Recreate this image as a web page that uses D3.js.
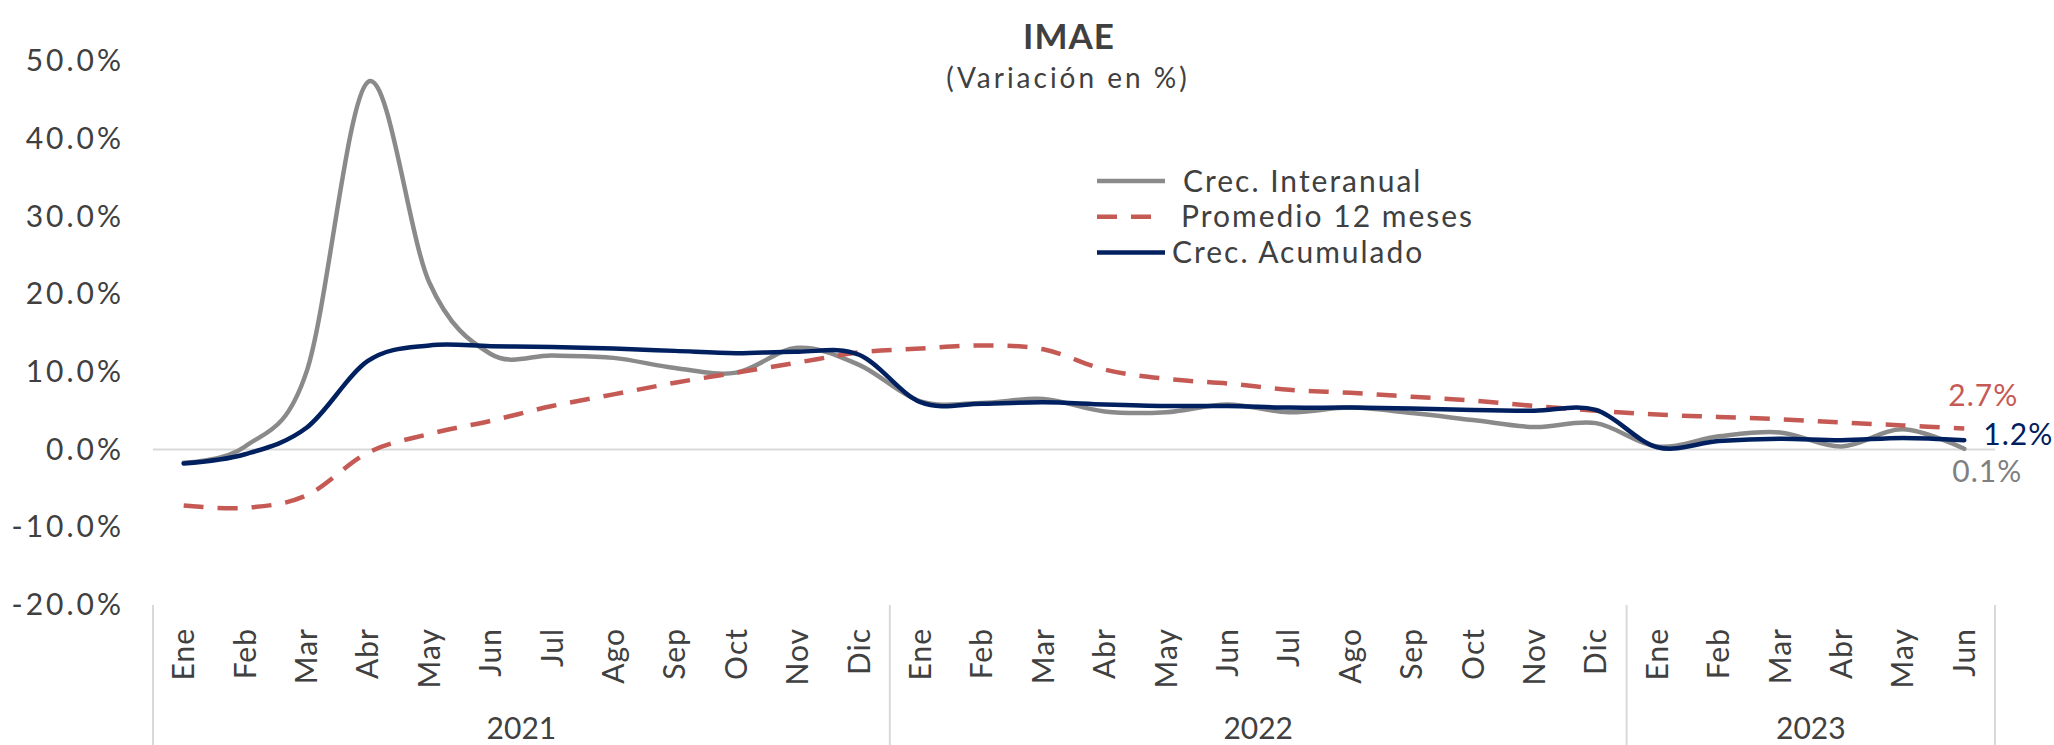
<!DOCTYPE html>
<html>
<meta charset="utf-8">
<title>IMAE</title>
<style>
  body { margin: 0; background: #fff; }
  svg text { font-family: Lato, "Open Sans", sans-serif; fill: #404040; }
  .line { fill: none; stroke-width: 4.5; stroke-linejoin: round; stroke-linecap: round; }
</style>
<body>
<div id="chart"></div>
<script src="https://cdn.jsdelivr.net/npm/d3@7"></script>
<script>
// datos (variacion en %)
var months = ["Ene","Feb","Mar","Abr","May","Jun","Jul","Ago","Sep","Oct","Nov","Dic",
              "Ene","Feb","Mar","Abr","May","Jun","Jul","Ago","Sep","Oct","Nov","Dic",
              "Ene","Feb","Mar","Abr","May","Jun"];
var years = ["2021", "2022", "2023"];
var monthsPerYear = [12, 12, 6];

var interanual = [-1.7, 0.4, 10.0, 47.3, 21.5, 12.3, 12.1, 11.8, 10.5, 9.9, 13.1, 10.9,
                  6.2, 6.0, 6.5, 4.9, 4.8, 5.8, 4.8, 5.4, 4.7, 3.8, 2.9, 3.4,
                  0.4, 1.7, 2.2, 0.4, 2.6, 0.1];
var promedio = [-7.2, -7.5, -5.9, -0.4, 2.0, 3.7, 5.6, 7.1, 8.6, 9.9, 11.2, 12.5,
                13.0, 13.4, 12.9, 10.3, 9.1, 8.5, 7.7, 7.3, 6.8, 6.3, 5.6, 5.0,
                4.5, 4.2, 3.9, 3.5, 3.1, 2.7];
var acumulado = [-1.8, -0.6, 2.8, 11.4, 13.4, 13.3, 13.2, 13.0, 12.7, 12.4, 12.6, 12.2,
                 6.1, 5.9, 6.1, 5.8, 5.6, 5.6, 5.4, 5.4, 5.3, 5.1, 5.0, 5.1,
                 0.3, 1.1, 1.4, 1.2, 1.5, 1.2];
var yTicks = [-20, -10, 0, 10, 20, 30, 40, 50];

var width = 2054, height = 745;

var svg = d3.select("#chart").append("svg")
    .attr("width", width)
    .attr("height", height);

var x = d3.scaleBand()
    .domain(d3.range(months.length))
    .range([153, 1995]);
var xc = function(i) { return x(i) + x.bandwidth() / 2; };

var y = d3.scaleLinear()
    .domain([-20, 50])
    .range([605, 61]);

// titulo
svg.append("text")
    .attr("x", 1069).attr("y", 49)
    .attr("text-anchor", "middle")
    .style("font-size", "35px").style("font-weight", "bold")
    .style("letter-spacing", "1px")
    .text("IMAE");
svg.append("text")
    .attr("x", 1068).attr("y", 88)
    .attr("text-anchor", "middle")
    .style("font-size", "28px")
    .style("letter-spacing", "3px")
    .text("(Variación en %)");

// eje y
var yAxis = svg.append("g")
    .attr("transform", "translate(153,0)")
    .call(d3.axisLeft(y).tickValues(yTicks).tickSize(0).tickPadding(29)
      .tickFormat(function(d) { return d.toFixed(1) + "%"; }));
yAxis.select(".domain").remove();
yAxis.selectAll("text")
    .style("font-size", "30px")
    .style("letter-spacing", "3px")
    .style("font-family", "Lato, 'Open Sans', sans-serif")
    .attr("fill", "#404040");

// linea del cero
svg.append("line")
    .attr("x1", 153).attr("x2", 1995)
    .attr("y1", y(0)).attr("y2", y(0))
    .style("stroke", "#d9d9d9").style("stroke-width", 2);

// separadores de anio
var bounds = [0];
monthsPerYear.forEach(function(n, i) { bounds.push(bounds[i] + n); });
svg.selectAll(".sep")
    .data(bounds)
  .enter().append("line")
    .attr("class", "sep")
    .attr("x1", function(d) { return d < months.length ? x(d) : x.range()[1]; })
    .attr("x2", function(d) { return d < months.length ? x(d) : x.range()[1]; })
    .attr("y1", y(-20)).attr("y2", height)
    .style("stroke", "#d9d9d9").style("stroke-width", 2);

// meses
svg.selectAll(".month")
    .data(months)
  .enter().append("text")
    .attr("class", "month")
    .attr("transform", function(d, i) { return "translate(" + xc(i) + ",628) rotate(-90)"; })
    .attr("dy", "0.35em")
    .attr("text-anchor", "end")
    .style("font-size", "30px")
    .style("letter-spacing", "1px")
    .text(function(d) { return d; });

// anios
svg.selectAll(".year")
    .data(years)
  .enter().append("text")
    .attr("class", "year")
    .attr("x", function(d, i) {
      var a = x(bounds[i]);
      var b = bounds[i + 1] < months.length ? x(bounds[i + 1]) : x.range()[1];
      return (a + b) / 2;
    })
    .attr("y", 739)
    .attr("text-anchor", "middle")
    .style("font-size", "30px")
    .text(function(d) { return d; });

// series
var line = d3.line()
    .x(function(d, i) { return xc(i); })
    .y(function(d) { return y(d); })
    .curve(d3.curveCardinal.tension(0));

svg.append("path").datum(interanual)
    .attr("class", "line")
    .attr("d", line)
    .style("stroke", "#8a8a8a");

svg.append("path").datum(promedio)
    .attr("class", "line")
    .attr("d", line)
    .style("stroke", "#c55a55")
    .style("stroke-linecap", "butt")
    .style("stroke-dasharray", "20,14");

svg.append("path").datum(acumulado)
    .attr("class", "line")
    .attr("d", line)
    .style("stroke", "#002060");

// etiquetas finales
var last = months.length - 1;
var endLabels = [
  {v: promedio[last], dx: -16, dy: -33, color: "#c55a55"},
  {v: acumulado[last], dx: 19, dy: -6, color: "#002060"},
  {v: interanual[last], dx: -12, dy: 23, color: "#808080"}
];
svg.selectAll(".endlab")
    .data(endLabels)
  .enter().append("text")
    .attr("class", "endlab")
    .attr("x", function(d) { return xc(last) + d.dx; })
    .attr("y", function(d) { return y(d.v) + d.dy; })
    .attr("dy", "0.35em")
    .style("font-size", "30px")
    .style("letter-spacing", "1px")
    .style("fill", function(d) { return d.color; })
    .text(function(d) { return d.v.toFixed(1) + "%"; });

// leyenda
var legend = [
  {name: "Crec. Interanual", color: "#8a8a8a", dash: null, tx: 1183},
  {name: "Promedio 12 meses", color: "#c55a55", dash: "20,14", tx: 1181},
  {name: "Crec. Acumulado", color: "#002060", dash: null, tx: 1172}
];
var lg = svg.selectAll(".lg")
    .data(legend)
  .enter().append("g")
    .attr("class", "lg")
    .attr("transform", function(d, i) { return "translate(0," + (181 + i * 35.8) + ")"; });
lg.append("line")
    .attr("x1", 1097).attr("x2", 1165)
    .style("stroke", function(d) { return d.color; })
    .style("stroke-width", 4.5)
    .style("stroke-dasharray", function(d) { return d.dash; });
lg.append("text")
    .attr("x", function(d) { return d.tx; })
    .attr("dy", "0.35em")
    .style("font-size", "30px")
    .style("letter-spacing", "2px")
    .text(function(d) { return d.name; });
</script>
</body>
</html>
